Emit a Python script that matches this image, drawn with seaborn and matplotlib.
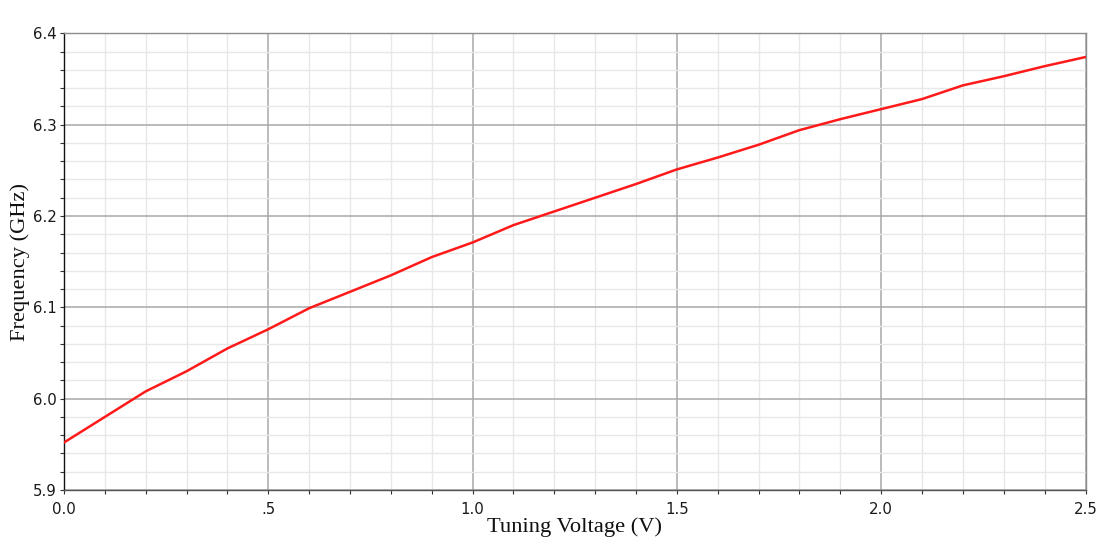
import numpy as np
import pandas as pd
import matplotlib
matplotlib.use("Agg")
import matplotlib.pyplot as plt
import seaborn as sns
from matplotlib.ticker import MultipleLocator, FixedLocator, FixedFormatter

voltage = [0.0, 0.1, 0.2, 0.3, 0.4, 0.5, 0.6, 0.7, 0.8, 0.9, 1.0, 1.1, 1.2,
           1.3, 1.4, 1.5, 1.6, 1.7, 1.8, 1.9, 2.0, 2.1, 2.2, 2.3, 2.4, 2.5]
frequency = [5.952, 5.980, 6.008, 6.030, 6.055, 6.076, 6.099, 6.117, 6.135,
             6.155, 6.171, 6.190, 6.205, 6.220, 6.235, 6.251, 6.264, 6.278,
             6.294, 6.306, 6.317, 6.328, 6.343, 6.353, 6.364, 6.374]
x_ticks = [0.0, 0.5, 1.0, 1.5, 2.0, 2.5]
x_tick_labels = ["0.0", ".5", "1.0", "1.5", "2.0", "2.5"]
y_ticks = [5.9, 6.0, 6.1, 6.2, 6.3, 6.4]
y_tick_labels = ["5.9", "6.0", "6.1", "6.2", "6.3", "6.4"]

df = pd.DataFrame({"Tuning Voltage (V)": voltage, "Frequency (GHz)": frequency})

sns.set_style("white")
plt.rcParams["font.family"] = ["DejaVu Sans"]

fig = plt.figure(figsize=(11.05, 5.44), dpi=100)
ax = fig.add_axes([64 / 1105, 54 / 544, (1085.5 - 64) / 1105, (490 - 33.3) / 544])

sns.lineplot(data=df, x="Tuning Voltage (V)", y="Frequency (GHz)", ax=ax,
             color="#ff1a1a", linewidth=1.8, zorder=5)

ax.set_xlim(0, 2.5)
ax.set_ylim(5.9, 6.4)
ax.xaxis.set_major_locator(FixedLocator(x_ticks))
ax.xaxis.set_major_formatter(FixedFormatter(x_tick_labels))
ax.yaxis.set_major_locator(FixedLocator(y_ticks))
ax.yaxis.set_major_formatter(FixedFormatter(y_tick_labels))
ax.xaxis.set_minor_locator(MultipleLocator(0.1))
ax.yaxis.set_minor_locator(MultipleLocator(0.02))

ax.grid(which="major", color="#a8a8a8", linewidth=1.1, zorder=1)
ax.grid(which="minor", color="#e8e8e8", linewidth=1.0, zorder=0)
ax.set_axisbelow(True)

ax.tick_params(axis="both", which="both", direction="out", colors="#333333",
               labelcolor="#1a1a1a", labelsize=10.8)
ax.tick_params(axis="y", which="major", length=3, width=0.8, pad=2, left=True)
ax.tick_params(axis="y", which="minor", length=3, width=0.8, left=True)
ax.tick_params(axis="x", which="major", length=3, width=0.8, pad=5.5, bottom=True)
ax.tick_params(axis="x", which="minor", length=3, width=0.8, bottom=True)

for side in ["top", "right"]:
    ax.spines[side].set_color("#8c8c8c")
    ax.spines[side].set_linewidth(1.0)
    ax.spines[side].set_visible(True)
ax.spines["left"].set_color("#111111")
ax.spines["left"].set_linewidth(1.0)
ax.spines["bottom"].set_color("#555555")
ax.spines["bottom"].set_linewidth(1.0)

serif = ["Liberation Serif", "DejaVu Serif"]
ax.set_xlabel("Tuning Voltage (V)", family=serif, fontsize=16.2, color="#111111", labelpad=0.5)
ax.set_ylabel("Frequency (GHz)", family=serif, fontsize=16.2, color="#111111", labelpad=2)

fig.savefig("out.png", dpi=100, facecolor="white")
